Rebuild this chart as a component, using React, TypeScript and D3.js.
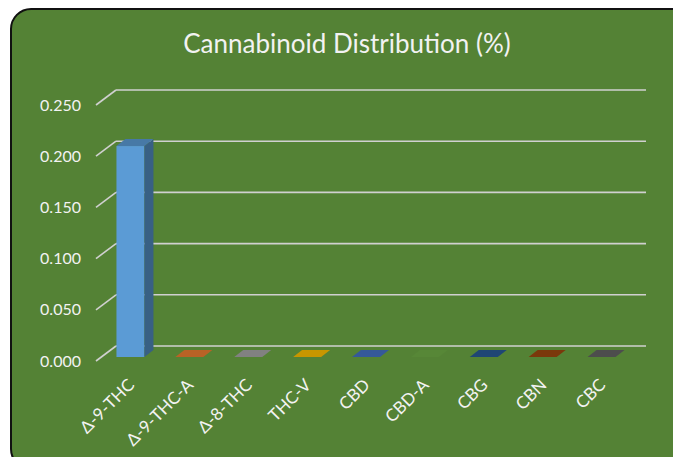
import React from 'react';
import * as d3 from 'd3';

const categories = ['Δ-9-THC', 'Δ-9-THC-A', 'Δ-8-THC', 'THC-V', 'CBD', 'CBD-A', 'CBG', 'CBN', 'CBC'];
const values = [0.206, 0, 0, 0, 0, 0, 0, 0, 0];
const barColors = ['#5b9bd5', '#ed7d31', '#a5a5a5', '#ffc000', '#4472c4', '#70ad47', '#285a96', '#9e480e', '#636363'];
const yTicks = [0, 0.05, 0.1, 0.15, 0.2, 0.25];

const W = 673;
const H = 457;
const BG = '#548235';
const FONT = "Lato, 'Open Sans', sans-serif";

// 3D geometry: offset from front plane to back wall, and bar placement in depth
const WALL = { dx: 20, dy: -15 };
const BAR_OFF = { dx: 5, dy: -4 };
const BAR_DEPTH = { dx: 9, dy: -7 };
const BAR_W = 28;

function shade(c: string, k: number) {
  const col = d3.color(c)!.rgb();
  return d3.rgb(col.r * k, col.g * k, col.b * k).formatHex();
}

export default function App() {
  const y = d3.scaleLinear().domain([0, 0.25]).range([361, 105]);
  const x = d3.scaleBand<string>().domain(categories).range([96, 626]);
  const fmt = d3.format('.3f');

  const poly = (pts: [number, number][]) => pts.map(p => p.join(',')).join(' ');

  return (
    <div style={{ position: 'fixed', left: 0, top: 0 }}>
      <svg width={W} height={H} style={{ display: 'block', background: '#fff' }}>
        <rect x={11} y={9} width={690} height={460} rx={20} ry={20} fill={BG} stroke="#111" strokeWidth={2} />
        <text x={347} y={53} textAnchor="middle" fill="#f2f2f2" fontFamily={FONT} fontSize={26}>
          Cannabinoid Distribution (%)
        </text>

        {/* gridlines: back wall + left side wall diagonal */}
        {yTicks.map(t => (
          <g key={t}>
            <line x1={96} y1={y(t)} x2={96 + WALL.dx} y2={y(t) + WALL.dy} stroke="#d0d0d0" strokeWidth={1.6} />
            <line x1={96 + WALL.dx} y1={y(t) + WALL.dy} x2={626 + WALL.dx} y2={y(t) + WALL.dy} stroke="#d0d0d0" strokeWidth={1.6} />
            <text x={81} y={y(t)} dy="0.35em" textAnchor="end" fill="#f2f2f2" fontFamily={FONT} fontSize={16}>
              {fmt(t)}
            </text>
          </g>
        ))}

        {/* bars */}
        {categories.map((c, i) => {
          const x0 = x(c)! + (x.bandwidth() - BAR_W) / 2 + BAR_OFF.dx;
          const x1 = x0 + BAR_W;
          const yb = y(0) + BAR_OFF.dy;
          const yt = y(values[i]) + BAR_OFF.dy;
          const col = barColors[i];
          const h = yb - yt;
          return (
            <g key={c}>
              {h > 0 && <rect x={x0} y={yt} width={BAR_W} height={h} fill={col} />}
              {h > 0 && (
                <polygon
                  points={poly([[x1, yt], [x1 + BAR_DEPTH.dx, yt + BAR_DEPTH.dy], [x1 + BAR_DEPTH.dx, yb + BAR_DEPTH.dy], [x1, yb]])}
                  fill={shade(col, 0.62)}
                />
              )}
              <polygon
                points={poly([[x0, yt], [x1, yt], [x1 + BAR_DEPTH.dx, yt + BAR_DEPTH.dy], [x0 + BAR_DEPTH.dx, yt + BAR_DEPTH.dy]])}
                fill={shade(col, 0.78)}
              />
            </g>
          );
        })}

        {/* category labels */}
        {categories.map(c => {
          const cx = x(c)! + x.bandwidth() / 2 + BAR_OFF.dx + 5;
          const cy = 386;
          return (
            <text
              key={c}
              x={cx}
              y={cy}
              textAnchor="end"
              transform={`rotate(-45 ${cx} ${cy})`}
              fill="#f2f2f2"
              fontFamily={FONT}
              fontSize={17}
            >
              {c}
            </text>
          );
        })}
      </svg>
    </div>
  );
}
